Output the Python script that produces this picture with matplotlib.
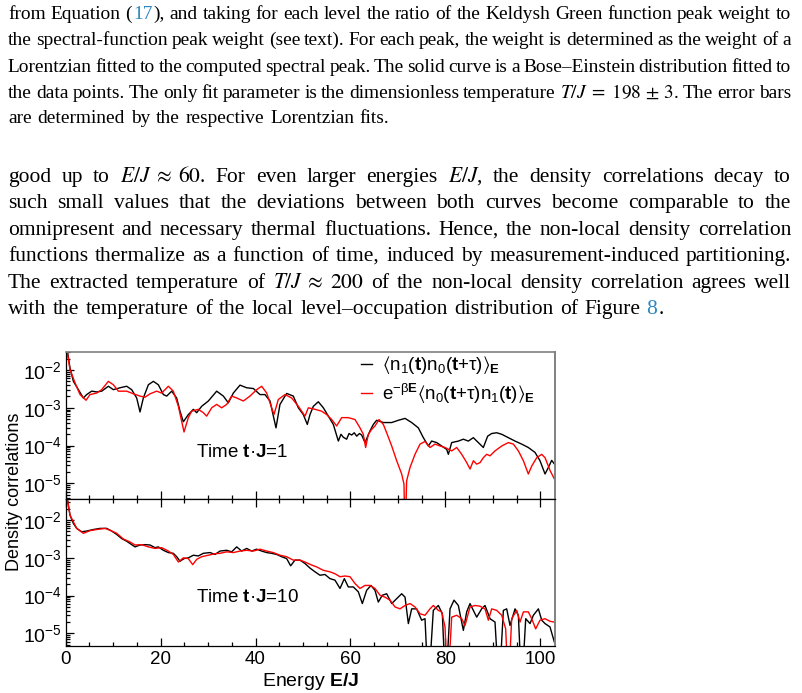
import matplotlib
matplotlib.use('Agg')
import matplotlib.pyplot as plt
import numpy as np
from matplotlib.ticker import MultipleLocator, LogLocator, NullFormatter

# density correlations, stored as log10 values
top_black_E = [0, 0.3, 0.91, 1.62, 2.67, 3.72, 4.42, 5.48, 6.53, 7.58, 8.99, 10.04, 11.45, 12.85, 13.9,
               14.96, 15.66, 16.36, 17.42, 18.47, 19.52, 20.58, 21.28, 22.33, 23.38, 24.09, 24.79, 25.84,
               26.9, 27.6, 28.65, 30.06, 31.81, 33.22, 34.27, 35.32, 36.73, 38.13, 39.54, 40.94, 41.99,
               43.05, 44.31, 45.15, 46.56, 47.96, 49.02, 50.07, 50.91, 51.47, 52.18, 53.23, 54.29, 55.34,
               56.39, 57.45, 58.0, 58.5, 59.2, 59.7, 60.26, 60.8, 61.31, 61.9, 62.36, 63.07, 64.12, 64.82,
               65.52, 66.93, 68.69, 70.09, 71.5, 72.9, 74.3, 75.36, 76.41, 77.11, 78.17, 79.22, 80.28,
               80.63, 81.33, 82.74, 83.79, 84.84, 85.89, 86.95, 88.0, 88.91, 89.76, 90.81, 91.87, 93.27,
               94.68, 96.08, 97.48, 98.89, 99.94, 101.0, 101.7, 102.4, 103.0]
top_black_log = [-1.35, -1.45, -1.95, -2.30, -2.52, -2.74, -2.65, -2.56, -2.58, -2.56, -2.43, -2.52, -2.47,
                 -2.43, -2.52, -2.74, -3.11, -2.74, -2.39, -2.30, -2.39, -2.65, -2.69, -2.56, -2.74, -3.09,
                 -3.37, -3.18, -3.04, -3.13, -2.96, -2.82, -2.56, -2.69, -2.87, -2.61, -2.40, -2.47, -2.49,
                 -2.65, -2.65, -2.82, -3.53, -2.91, -2.62, -2.69, -3.00, -3.18, -3.44, -3.18, -2.96, -2.84,
                 -3.00, -3.22, -3.44, -3.88, -3.70, -3.78, -3.83, -3.68, -3.72, -3.66, -3.75, -3.68, -3.72,
                 -3.92, -3.61, -3.44, -3.33, -3.39, -3.39, -3.33, -3.28, -3.39, -3.53, -3.79, -4.01, -3.88,
                 -3.92, -4.01, -4.10, -4.23, -3.92, -3.88, -3.83, -3.88, -3.79, -3.92, -4.05, -3.75, -3.68,
                 -3.66, -3.70, -3.79, -3.88, -3.96, -4.05, -4.18, -4.40, -4.75, -4.58, -4.39, -4.49]

top_red_E = [0, 0.3, 0.91, 1.97, 3.02, 4.28, 5.13, 6.53, 7.58, 8.99, 10.04, 11.1, 12.85, 14.26, 15.66,
             16.71, 17.77, 19.17, 20.22, 21.63, 22.68, 23.74, 24.93, 25.84, 26.54, 27.95, 29.0, 29.7, 30.76,
             31.81, 32.87, 33.92, 34.97, 36.03, 37.43, 38.83, 40.24, 41.29, 42.35, 43.4, 43.89, 44.8,
             46.21, 47.61, 49.02, 50.42, 51.12, 52.53, 53.93, 55.0, 56.04, 57.09, 58.15, 59.55, 60.96,
             62.01, 62.71, 63.2, 63.77, 64.47, 65.17, 66.02, 66.93, 67.63, 68.69, 69.74, 70.79, 71.28,
             71.5, 71.84, 72.55, 73.6, 74.66, 75.71, 76.76, 77.82, 78.87, 79.93, 81.33, 82.39, 83.44,
             84.5, 85.2, 85.9, 86.6, 87.3, 88.0, 88.7, 89.4, 90.46, 91.87, 93.27, 94.33, 95.38, 96.44,
             97.48, 98.2, 99.25, 100.3, 101.0, 102.1, 103.0]
top_red_log = [-1.35, -1.5, -1.99, -2.34, -2.65, -2.80, -2.65, -2.61, -2.52, -2.30, -2.39, -2.56, -2.56,
               -2.63, -2.69, -2.72, -2.63, -2.56, -2.61, -2.43, -2.56, -2.96, -3.64, -3.26, -3.09, -3.04,
               -3.13, -3.22, -3.00, -2.91, -3.00, -2.91, -2.69, -2.74, -2.82, -2.69, -2.52, -2.43, -2.61,
               -3.00, -3.18, -2.78, -2.65, -2.74, -2.96, -3.22, -3.00, -3.04, -3.09, -3.18, -3.31, -3.48,
               -3.26, -3.26, -3.31, -3.53, -3.70, -4.05, -3.70, -3.57, -3.48, -3.31, -3.44, -3.66, -4.01,
               -4.40, -4.75, -5.02, -6.5, -4.93, -4.58, -4.23, -3.96, -3.89, -4.05, -3.96, -4.01, -4.05,
               -4.14, -4.05, -4.23, -4.45, -4.62, -4.40, -4.49, -4.45, -4.32, -4.23, -4.27, -4.14, -4.01,
               -3.92, -3.96, -4.14, -4.40, -4.75, -4.54, -4.32, -4.23, -4.32, -4.67, -4.89]

bot_black_E = [0, 0.21, 0.91, 1.62, 2.32, 3.37, 4.42, 5.83, 7.23, 8.64, 9.69, 10.74, 11.8, 12.85, 13.9,
               14.61, 15.66, 16.71, 17.77, 18.82, 19.52, 20.58, 21.63, 22.68, 23.39, 24.09, 24.93, 25.84,
               26.9, 27.95, 29.0, 30.41, 31.46, 32.51, 33.92, 34.97, 36.03, 37.08, 38.13, 39.19, 40.24,
               41.29, 42.35, 43.4, 44.45, 45.51, 46.56, 47.4, 48.31, 49.37, 50.42, 51.47, 52.53, 53.58,
               54.63, 55.69, 56.74, 57.8, 58.71, 59.55, 60.61, 61.66, 62.5, 63.41, 64.33, 65.17, 65.87,
               66.71, 67.63, 68.69, 69.74, 70.79, 71.5, 72.2, 72.9, 73.95, 75.0, 75.71, 76.41, 77.46,
               78.52, 79.36, 80.06, 80.98, 81.82, 82.73, 83.79, 84.49, 85.19, 85.89, 86.6, 87.65, 88.35,
               89.41, 90.46, 91.3, 92.22, 92.92, 93.62, 94.68, 95.38, 96.08, 96.93, 97.84, 98.54, 99.6,
               100.3, 101.0, 102.05, 102.97]
bot_black_log = [-1.3, -1.34, -1.87, -2.09, -2.22, -2.31, -2.29, -2.25, -2.22, -2.22, -2.29, -2.38, -2.49,
                 -2.56, -2.65, -2.71, -2.66, -2.65, -2.66, -2.73, -2.71, -2.80, -2.86, -2.88, -2.97, -3.09,
                 -3.02, -3.00, -2.93, -2.95, -2.88, -2.86, -2.91, -2.82, -2.80, -2.84, -2.71, -2.82, -2.75,
                 -2.82, -2.77, -2.82, -2.86, -2.88, -2.91, -2.97, -3.02, -3.21, -3.06, -3.06, -3.15, -3.27,
                 -3.37, -3.46, -3.44, -3.55, -3.59, -3.81, -3.55, -3.77, -3.77, -3.90, -4.21, -3.86, -3.73,
                 -3.86, -4.17, -3.99, -3.95, -4.21, -4.08, -3.95, -4.04, -4.74, -4.35, -4.35, -4.65, -4.61,
                 -6.5, -4.39, -4.26, -4.48, -6.5, -4.35, -4.12, -4.26, -4.92, -4.43, -4.21, -4.39, -4.57,
                 -4.35, -4.26, -4.61, -4.70, -6.5, -4.39, -4.35, -4.79, -4.35, -4.52, -6.5, -4.61, -4.74,
                 -4.52, -4.35, -4.65, -4.74, -4.83, -5.23]

bot_red_E = [0, 0.21, 0.91, 2.32, 3.72, 5.13, 6.53, 8.29, 9.34, 10.74, 12.15, 13.55, 14.61, 16.01, 17.42,
             18.82, 20.22, 21.63, 22.68, 23.74, 24.79, 25.84, 26.76, 27.6, 28.65, 30.06, 31.46, 32.51,
             33.92, 35.32, 36.73, 38.13, 39.54, 40.94, 42.35, 43.75, 45.15, 46.56, 47.96, 49.37, 50.42,
             51.82, 52.88, 54.29, 55.69, 56.74, 57.8, 58.85, 59.91, 60.96, 62.01, 63.07, 64.12, 65.17,
             66.23, 67.28, 68.34, 69.39, 70.45, 71.5, 72.55, 73.6, 74.66, 75.71, 76.76, 77.46, 78.52,
             79.22, 79.93, 80.49, 81.33, 82.39, 83.44, 84.14, 85.19, 86.25, 87.3, 88.35, 89.06, 89.76,
             90.81, 91.87, 92.71, 93.27, 93.97, 95.03, 95.73, 96.44, 97.48, 98.19, 99.03, 99.94, 101.0,
             102.05, 102.97]
bot_red_log = [-1.3, -1.34, -1.87, -2.22, -2.35, -2.28, -2.25, -2.22, -2.27, -2.35, -2.50, -2.58, -2.66,
               -2.65, -2.71, -2.75, -2.73, -2.82, -2.91, -3.11, -3.00, -3.02, -3.18, -3.04, -2.97, -2.93,
               -2.89, -2.88, -2.84, -2.86, -2.82, -2.80, -2.82, -2.77, -2.82, -2.86, -2.93, -2.97, -3.06,
               -3.06, -3.11, -3.19, -3.24, -3.33, -3.37, -3.42, -3.50, -3.48, -3.50, -3.68, -3.81, -3.73,
               -3.73, -3.81, -3.99, -4.04, -4.12, -4.30, -4.35, -4.26, -4.21, -4.30, -4.48, -4.52, -4.35,
               -4.26, -4.39, -4.43, -4.83, -6.5, -4.57, -4.52, -4.61, -4.79, -4.30, -4.26, -4.28, -4.35,
               -4.65, -4.35, -4.39, -4.52, -4.88, -6.5, -4.61, -4.39, -4.70, -4.43, -4.43, -4.61, -4.88,
               -4.65, -4.61, -4.68, -4.70]

x_ticks = [0, 20, 40, 60, 80, 100]
legend_labels = ['$\\langle$n$_1$($\\mathbf{t}$)n$_0$($\\mathbf{t}$+\u03c4)$\\rangle_\\mathbf{E}$',
                 'e$^{-\\mathrm{\u03b2}\\mathbf{E}}\\langle$n$_0$($\\mathbf{t}$+\u03c4)n$_1$($\\mathbf{t}$)'
                 '$\\rangle_\\mathbf{E}$']
panel_labels = ['Time $\\mathbf{t}$\u00b7$\\mathbf{J}$=1', 'Time $\\mathbf{t}$\u00b7$\\mathbf{J}$=10']

caption_lines = [
    "from Equation (17), and taking for each level the ratio of the Keldysh Green function peak weight to",
    "the spectral-function peak weight (see text). For each peak, the weight is determined as the weight of a",
    "Lorentzian fitted to the computed spectral peak. The solid curve is a Bose\u2013Einstein distribution fitted to",
    r"the data points. The only fit parameter is the dimensionless temperature $T/J\;=\;198\,\pm\,3$. The error bars",
    "are determined by the respective Lorentzian fits.",
]
body_lines = [
    r"good up to $E/J\;\approx\;60$.  For even larger energies $E/J$, the density correlations decay to",
    "such small values that the deviations between both curves become comparable to the",
    "omnipresent and necessary thermal fluctuations. Hence, the non-local density correlation",
    "functions thermalize as a function of time, induced by measurement-induced partitioning.",
    r"The extracted temperature of $T/J\;\approx\;200$ of the non-local density correlation agrees well",
    "with the temperature of the local level\u2013occupation distribution of Figure 8.",
]

plt.rcParams['font.family'] = ['Liberation Sans', 'DejaVu Sans']
plt.rcParams['mathtext.fontset'] = 'custom'
plt.rcParams['mathtext.rm'] = 'Liberation Sans'
plt.rcParams['mathtext.it'] = 'Liberation Sans:italic'
plt.rcParams['mathtext.bf'] = 'Liberation Sans:bold'
plt.rcParams['mathtext.sf'] = 'Liberation Sans'
plt.rcParams['mathtext.fallback'] = 'stixsans'

W, H = 802, 693
K = 'black'
LINK = '#2e86c1'
PX = 100 / 72.0

fig = plt.figure(figsize=(W / 100, H / 100), dpi=100)
ax1 = fig.add_axes([65.7 / W, 1 - 499.3 / H, 489.3 / W, 147.6 / H])
ax2 = fig.add_axes([65.7 / W, 1 - 645.5 / H, 489.3 / W, 146.2 / H])

series = [(ax1, top_black_E, top_black_log, top_red_E, top_red_log),
          (ax2, bot_black_E, bot_black_log, bot_red_E, bot_red_log)]
for ax, kx, ky, rx, ry in series:
    ax.plot(kx, 10 ** np.array(ky), color='black', lw=1.0)
    ax.plot(rx, 10 ** np.array(ry), color='#ff0000', lw=1.0)
    ax.set_yscale('log')
    ax.set_xlim(0, 103.1)
    ax.set_xticks(x_ticks)
    ax.xaxis.set_minor_locator(MultipleLocator(5))
    ax.yaxis.set_major_locator(LogLocator(base=10, numticks=10))
    ax.yaxis.set_minor_locator(LogLocator(base=10, subs=np.arange(2, 10), numticks=20))
    ax.yaxis.set_minor_formatter(NullFormatter())
    ax.tick_params(which='both', direction='in', right=False, labelsize=14, width=0.9, colors='black')
    ax.tick_params(which='major', length=6)
    ax.tick_params(which='minor', length=3)
    ax.tick_params(axis='y', pad=3)
    ax.tick_params(axis='x', pad=4, labelsize=13.5)
    ax.spines['right'].set_color('#808080')
    ax.spines['right'].set_linewidth(1.4)
    for s in ('left', 'bottom'):
        ax.spines[s].set_linewidth(0.9)

ax1.set_ylim(10 ** -5.42, 10 ** -1.516)
ax2.set_ylim(10 ** -5.32, 10 ** -1.45)
ax1.tick_params(axis='x', which='both', top=False, labelbottom=False)
ax1.spines['top'].set_color('#808080')
ax1.spines['top'].set_linewidth(1.2)
ax2.tick_params(axis='x', which='both', top=True)
ax2.spines['top'].set_linewidth(0.9)

ax1.legend([ax1.lines[0], ax1.lines[1]], legend_labels, loc='upper left', bbox_to_anchor=(0.6, 0.995),
           frameon=False, fontsize=13.5, handlelength=0.6, handletextpad=0.5, labelspacing=0.3,
           borderaxespad=0, borderpad=0.1)
ax1.text(0.266, 0.314, panel_labels[0], transform=ax1.transAxes, fontsize=13.5, va='center', ha='left')
ax2.text(0.266, 0.327, panel_labels[1], transform=ax2.transAxes, fontsize=13.5, va='center', ha='left')

fig.text(15 / W, 1 - 492 / H, 'Density correlations', rotation=90, ha='center', va='center', fontsize=13)
fig.text(311 / W, 1 - 681 / H, r'Energy $\mathbf{E/J}$', ha='center', va='center', fontsize=14)

# justified paragraph text above the chart
links = {'(17),': [('(', K), ('17', LINK), ('),', K)], '8.': [('8', LINK), ('.', K)]}
renderer = fig.canvas.get_renderer()


def text_width(s, size):
    t = fig.text(0, 0, s, fontsize=size, family='Liberation Serif', math_fontfamily='stix')
    w = t.get_window_extent(renderer).width
    t.remove()
    return w


def draw_block(lines, baselines, size, x0=8, x1=792, min_gap=0.18):
    parsed = [[links.get(w, [(w, K)]) for w in ln.split()] for ln in lines]
    need = 0
    for words in parsed[:-1]:
        tot = sum(text_width(s, size) + 1 for w in words for s, c in w)
        tot += (len(words) - 1) * min_gap * size * PX
        need = max(need, tot / (x1 - x0))
    if need > 1:
        size = size / need
    for i, words in enumerate(parsed):
        ws = [[text_width(s, size) + 1 for s, c in w] for w in words]
        tot = sum(sum(w) for w in ws)
        if i < len(parsed) - 1:
            gap = (x1 - x0 - tot) / (len(words) - 1)
        else:
            gap = 0.25 * size * PX
        x = x0
        for w, wl in zip(words, ws):
            for (s, c), sw in zip(w, wl):
                fig.text(x / W, 1 - baselines[i] / H, s, fontsize=size, family='Liberation Serif',
                         math_fontfamily='stix', color=c, va='baseline', ha='left')
                x += sw
            x += gap


draw_block(caption_lines, [19, 45, 72, 98, 123], 14, min_gap=0.12)
draw_block(body_lines, [182, 208, 235, 261, 288, 314], 15.5)

fig.savefig('out.png', dpi=100)
